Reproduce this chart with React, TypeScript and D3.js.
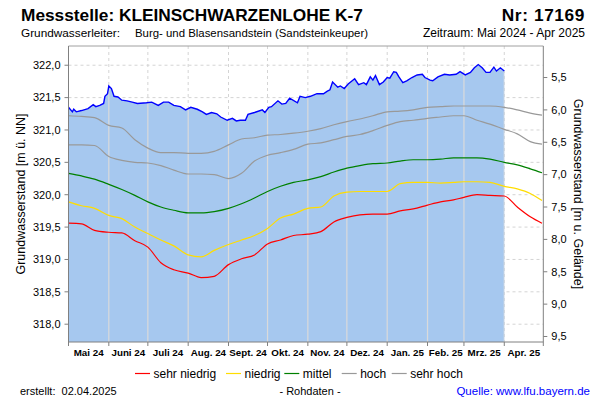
import React from "react";
import * as d3 from "d3";

// ---------- DATA ----------
const refDates = [
  "2024-05-01", "2024-05-11", "2024-05-21", "2024-06-01", "2024-06-11", "2024-06-21",
  "2024-07-01", "2024-07-11", "2024-07-21", "2024-08-01", "2024-08-11", "2024-08-21",
  "2024-09-01", "2024-09-11", "2024-09-21", "2024-10-01", "2024-10-11", "2024-10-21",
  "2024-11-01", "2024-11-11", "2024-11-21", "2024-12-01", "2024-12-11", "2024-12-21",
  "2025-01-01", "2025-01-11", "2025-01-21", "2025-02-01", "2025-02-11", "2025-02-21",
  "2025-03-01", "2025-03-11", "2025-03-21", "2025-04-01", "2025-04-11", "2025-04-21",
  "2025-04-30",
];
const sehrHoch = [
  321.22, 321.21, 321.19, 321.07, 321.03, 320.85, 320.72, 320.65, 320.65, 320.64, 320.64, 320.67,
  320.77, 320.86, 320.88, 320.92, 320.93, 320.95, 320.98, 321.02, 321.08, 321.13, 321.17, 321.22,
  321.28, 321.29, 321.31, 321.35, 321.36, 321.37, 321.37, 321.37, 321.37, 321.35, 321.31, 321.26,
  321.23,
];
const hoch = [
  320.77, 320.77, 320.76, 320.59, 320.53, 320.50, 320.49, 320.45, 320.38, 320.32, 320.32, 320.31,
  320.25, 320.33, 320.52, 320.61, 320.65, 320.70, 320.78, 320.80, 320.85, 320.90, 320.93, 320.99,
  321.07, 321.13, 321.15, 321.18, 321.20, 321.22, 321.22, 321.15, 321.09, 321.01, 320.94, 320.82,
  320.78,
];
const mittel = [
  320.33, 320.29, 320.24, 320.16, 320.08, 319.99, 319.89, 319.81, 319.76, 319.72, 319.72, 319.74,
  319.79, 319.86, 319.95, 320.05, 320.13, 320.19, 320.23, 320.28, 320.35, 320.41, 320.45, 320.48,
  320.49, 320.52, 320.54, 320.54, 320.55, 320.57, 320.57, 320.57, 320.55, 320.50, 320.46, 320.40,
  320.34,
];
const niedrig = [
  319.89, 319.83, 319.79, 319.68, 319.63, 319.50, 319.40, 319.30, 319.21, 319.07, 319.04, 319.14,
  319.23, 319.30, 319.37, 319.48, 319.64, 319.70, 319.79, 319.81, 319.98, 320.04, 320.05, 320.05,
  320.05, 320.17, 320.19, 320.19, 320.18, 320.19, 320.20, 320.20, 320.19, 320.13, 320.09, 320.02,
  319.91,
];
const sehrNiedrig = [
  319.56, 319.55, 319.45, 319.42, 319.41, 319.29, 319.19, 318.95, 318.84, 318.79, 318.72, 318.74,
  318.92, 319.01, 319.07, 319.24, 319.30, 319.37, 319.39, 319.43, 319.58, 319.65, 319.69, 319.70,
  319.70, 319.75, 319.78, 319.84, 319.89, 319.92, 319.96, 320.00, 319.99, 319.98, 319.81, 319.66,
  319.56,
];

const measDates = [
  "2024-05-01", "2024-05-04", "2024-05-05", "2024-05-07", "2024-05-11", "2024-05-16", "2024-05-20",
  "2024-05-22", "2024-05-25", "2024-05-28", "2024-05-29", "2024-05-31", "2024-06-01", "2024-06-03",
  "2024-06-05", "2024-06-08", "2024-06-11", "2024-06-15", "2024-06-19", "2024-06-23", "2024-06-30",
  "2024-07-04", "2024-07-09", "2024-07-13", "2024-07-17", "2024-07-21", "2024-07-26", "2024-07-30",
  "2024-08-03", "2024-08-08", "2024-08-12", "2024-08-15", "2024-08-19", "2024-08-23", "2024-08-26",
  "2024-08-31", "2024-09-04", "2024-09-07", "2024-09-10", "2024-09-14", "2024-09-16", "2024-09-21",
  "2024-09-27", "2024-09-29", "2024-10-02", "2024-10-04", "2024-10-09", "2024-10-12", "2024-10-15",
  "2024-10-18", "2024-10-24", "2024-10-26", "2024-10-30", "2024-11-03", "2024-11-08", "2024-11-13",
  "2024-11-16", "2024-11-18", "2024-11-20", "2024-11-24", "2024-11-26", "2024-11-29", "2024-12-02",
  "2024-12-07", "2024-12-10", "2024-12-14", "2024-12-16", "2024-12-19", "2024-12-21", "2024-12-23",
  "2024-12-26", "2024-12-29", "2025-01-01", "2025-01-03", "2025-01-06", "2025-01-08", "2025-01-10",
  "2025-01-13", "2025-01-16", "2025-01-20", "2025-01-24", "2025-01-28", "2025-01-30", "2025-02-03",
  "2025-02-05", "2025-02-09", "2025-02-14", "2025-02-18", "2025-02-23", "2025-02-26", "2025-03-02",
  "2025-03-06", "2025-03-09", "2025-03-12", "2025-03-15", "2025-03-18", "2025-03-21", "2025-03-24",
  "2025-03-26", "2025-03-29", "2025-04-01",
];
const measValues = [
  321.35, 321.28, 321.32, 321.28, 321.30, 321.33, 321.39,
  321.36, 321.38, 321.41, 321.52, 321.56, 321.68, 321.64,
  321.52, 321.51, 321.46, 321.45, 321.43, 321.41, 321.42,
  321.43, 321.38, 321.43, 321.43, 321.38, 321.36, 321.31,
  321.35, 321.32, 321.28, 321.24, 321.27, 321.25, 321.20,
  321.15, 321.18, 321.14, 321.15, 321.15, 321.24, 321.27,
  321.31, 321.27, 321.35, 321.36, 321.45, 321.40, 321.41,
  321.49, 321.42, 321.52, 321.50, 321.52, 321.56, 321.56,
  321.60, 321.62, 321.74, 321.66, 321.68, 321.64, 321.71,
  321.79, 321.70, 321.73, 321.70, 321.82, 321.77, 321.84,
  321.70, 321.74, 321.81, 321.80, 321.90, 321.89, 321.82,
  321.73, 321.76, 321.81, 321.85, 321.86, 321.81, 321.77,
  321.76, 321.82, 321.86, 321.85, 321.86, 321.90, 321.85,
  321.89, 321.96, 322.01, 321.96, 321.89, 321.89, 321.97,
  321.91, 321.96, 321.91,
];

const monthStarts = [
  "2024-05-01", "2024-06-01", "2024-07-01", "2024-08-01", "2024-09-01", "2024-10-01", "2024-11-01",
  "2024-12-01", "2025-01-01", "2025-02-01", "2025-03-01", "2025-04-01", "2025-05-01",
];
const monthLabels = [
  "Mai 24", "Juni 24", "Juli 24", "Aug. 24", "Sept. 24", "Okt. 24", "Nov. 24", "Dez. 24",
  "Jan. 25", "Feb. 25", "Mrz. 25", "Apr. 25",
];
const leftTicks = [318, 318.5, 319, 319.5, 320, 320.5, 321, 321.5, 322];
const rightTicks = [5.5, 6, 6.5, 7, 7.5, 8, 8.5, 9, 9.5];
const groundLevel = 327.31;

const legendNames = ["sehr niedrig", "niedrig", "mittel", "hoch", "sehr hoch"];
const legendColors = ["#ff0000", "#ffdd00", "#008000", "#999999", "#999999"];

// ---------- LAYOUT ----------
const W = 600;
const H = 400;
const L = 68.5;
const R = 543.3;
const T = 46;
const B = 342;
const FONT = "'Liberation Sans', Arial, sans-serif";

const parse = d3.timeParse("%Y-%m-%d");

export default function App() {
  const x = d3
    .scaleTime()
    .domain([parse("2024-05-01")!, parse("2025-05-01")!])
    .range([L, R]);
  const y = d3.scaleLinear().domain([317.725, 322.297]).range([B, T]);
  const yDepth = (d: number) => y(groundLevel - d);

  const refSeries = [sehrNiedrig, niedrig, mittel, hoch, sehrHoch];
  const refD = refDates.map((s) => parse(s)!);
  const refLine = d3
    .line<number>()
    .x((_, i) => x(refD[i]))
    .y((v) => y(v))
    .curve(d3.curveMonotoneX);

  const meas = measDates.map((s, i) => ({ d: parse(s)!, v: measValues[i] }));
  const measLine = d3
    .line<{ d: Date; v: number }>()
    .x((p) => x(p.d))
    .y((p) => y(p.v));
  const measArea = d3
    .area<{ d: Date; v: number }>()
    .x((p) => x(p.d))
    .y0(B)
    .y1((p) => y(p.v));

  const months = monthStarts.map((s) => parse(s)!);
  const fmt = (v: number) => v.toFixed(1).replace(".", ",");

  const legendX = [135, 226, 284.3, 341.7, 391.7];

  return (
    <div style={{ position: "absolute", left: 0, top: 0 }}>
      <svg width={W} height={H} style={{ display: "block", background: "#fff" }} fontFamily={FONT}>
        <defs>
          <clipPath id="areaClip">
            <path d={measArea(meas) || ""} />
          </clipPath>
        </defs>

        {/* title */}
        <text x={21} y={21} fontSize={17.3} fontWeight="bold" fill="#000">
          Messstelle: KLEINSCHWARZENLOHE K-7
        </text>
        <text x={585} y={21} fontSize={17.3} fontWeight="bold" textAnchor="end" fill="#000" letterSpacing={0.6}>
          Nr: 17169
        </text>
        <text x={21} y={37} fontSize={11.8} fill="#000">
          Grundwasserleiter:
        </text>
        <text x={135} y={37} fontSize={11.4} fill="#000">
          Burg- und Blasensandstein (Sandsteinkeuper)
        </text>
        <text x={585} y={37} fontSize={12} textAnchor="end" fill="#000">
          Zeitraum: Mai 2024 - Apr 2025
        </text>

        {/* dashed grid */}
        {leftTicks.map((t) => (
          <line key={"hg" + t} x1={L} x2={R} y1={y(t)} y2={y(t)} stroke="#d4d4d4" strokeDasharray="3,3" />
        ))}
        {months.slice(1, -1).map((m, i) => (
          <line key={"vg" + i} x1={x(m)} x2={x(m)} y1={T} y2={B} stroke="#d4d4d4" strokeDasharray="3,3" />
        ))}

        {/* measured fill */}
        <path d={measArea(meas) || ""} fill="#a6c8ef" />
        <g clipPath="url(#areaClip)">
          {months.slice(1, -1).map((m, i) => (
            <line key={"vs" + i} x1={x(m)} x2={x(m)} y1={T} y2={B} stroke="#dadada" strokeWidth={1.2} />
          ))}
        </g>

        {/* reference lines */}
        {refSeries.map((s, i) => (
          <path key={"ref" + i} d={refLine(s) || ""} fill="none" stroke={legendColors[i]} strokeWidth={1.2} />
        ))}

        {/* measured line */}
        <path d={measLine(meas) || ""} fill="none" stroke="#0000ff" strokeWidth={1.4} />

        {/* frame */}
        <line x1={L} x2={R} y1={T} y2={T} stroke="#a0a0a0" />
        <line x1={L} x2={L} y1={T} y2={B} stroke="#808080" />
        <line x1={R} x2={R} y1={T} y2={B} stroke="#808080" />
        <line x1={L} x2={R} y1={B} y2={B} stroke="#808080" />

        {/* left axis */}
        {leftTicks.map((t) => (
          <g key={"lt" + t}>
            <line x1={L - 4} x2={L} y1={y(t)} y2={y(t)} stroke="#808080" />
            <text x={L - 8} y={y(t)} dy="0.35em" fontSize={11} textAnchor="end" fill="#000">
              {fmt(t)}
            </text>
          </g>
        ))}
        {/* right axis */}
        {rightTicks.map((t) => (
          <g key={"rt" + t}>
            <line x1={R} x2={R + 4} y1={yDepth(t)} y2={yDepth(t)} stroke="#808080" />
            <text x={R + 8} y={yDepth(t)} dy="0.35em" fontSize={11} fill="#000">
              {fmt(t)}
            </text>
          </g>
        ))}
        {/* x axis */}
        {months.map((m, i) => (
          <line key={"xt" + i} x1={x(m)} x2={x(m)} y1={B} y2={B + 4} stroke="#808080" />
        ))}
        {monthLabels.map((lab, i) => (
          <text
            key={"xl" + i}
            x={(x(months[i]) + x(months[i + 1])) / 2}
            y={356}
            fontSize={9.8}
            fontWeight="bold"
            textAnchor="middle"
            fill="#000"
          >
            {lab}
          </text>
        ))}

        {/* axis titles */}
        <text
          transform={`translate(25,${(T + B) / 2}) rotate(-90)`}
          fontSize={12.5}
          textAnchor="middle"
          fill="#000"
        >
          Grundwasserstand [m ü. NN]
        </text>
        <text
          transform={`translate(574,${(T + B) / 2}) rotate(90)`}
          fontSize={12.5}
          textAnchor="middle"
          fill="#000"
        >
          Grundwasserstand [m u. Gelände]
        </text>

        {/* legend */}
        {legendNames.map((n, i) => (
          <g key={"lg" + i}>
            <line x1={legendX[i]} x2={legendX[i] + 15} y1={373.5} y2={373.5} stroke={legendColors[i]} strokeWidth={1.2} />
            <text x={legendX[i] + 18.5} y={373.5} dy="0.35em" fontSize={12} fill="#000">
              {n}
            </text>
          </g>
        ))}

        {/* footer */}
        <text x={20} y={395} fontSize={11} fill="#000" xmlSpace="preserve">
          {"erstellt:  02.04.2025"}
        </text>
        <text x={310} y={395} fontSize={11} textAnchor="middle" fill="#000">
          - Rohdaten -
        </text>
        <text x={590} y={395} fontSize={11.5} textAnchor="end" fill="#0000ff">
          Quelle: www.lfu.bayern.de
        </text>
      </svg>
    </div>
  );
}
